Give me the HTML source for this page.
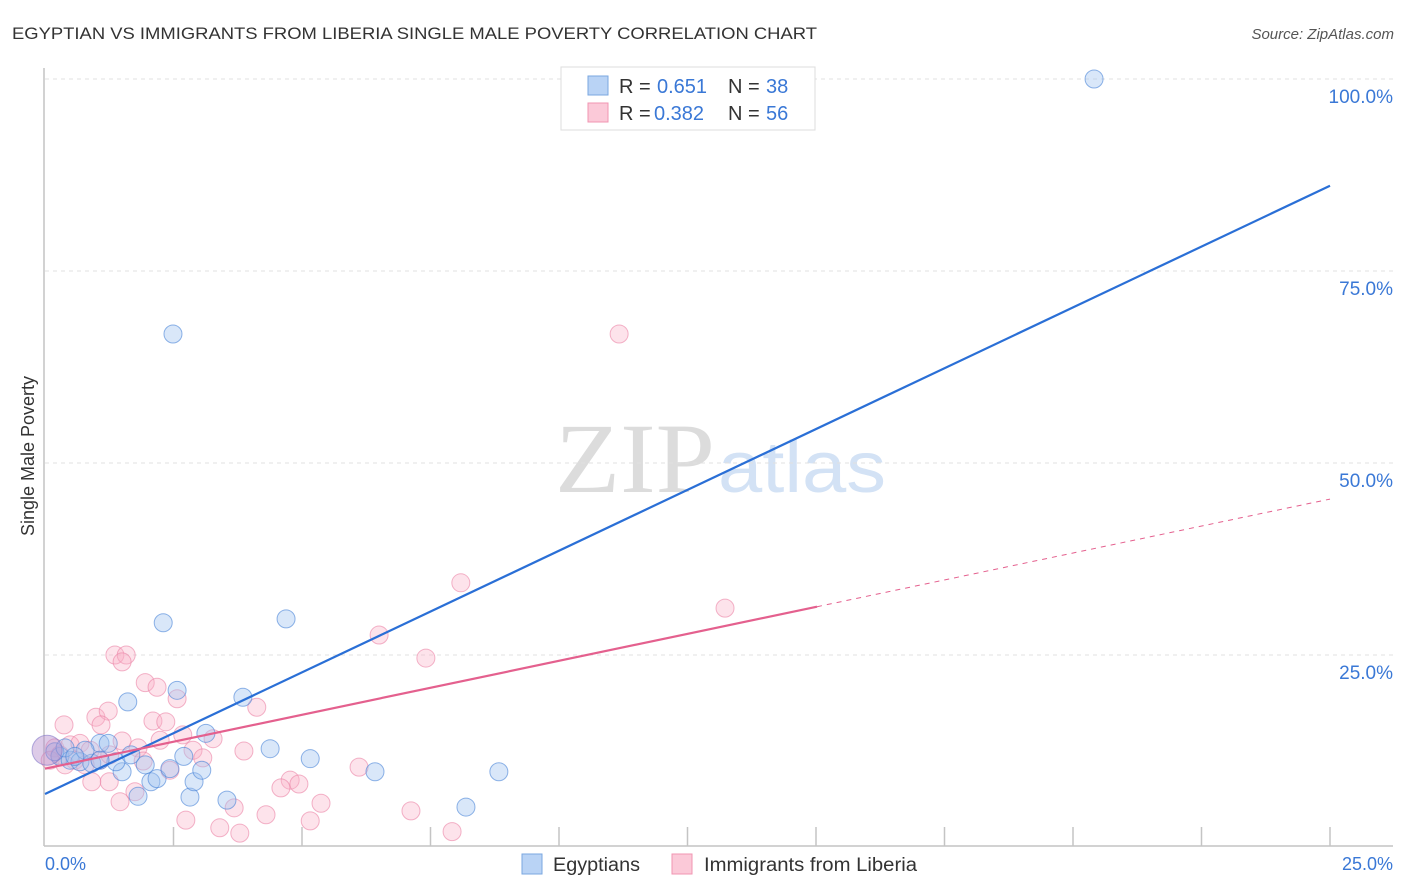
<!DOCTYPE html>
<html><head><meta charset="utf-8"><style>
body{margin:0;background:#fff;font-family:"Liberation Sans",sans-serif}
svg{display:block}
</style></head><body>
<svg id="chart" width="1406" height="892" xmlns="http://www.w3.org/2000/svg" font-family="Liberation Sans, sans-serif">
<text x="12" y="39" font-size="17" fill="#333" textLength="805" lengthAdjust="spacingAndGlyphs">EGYPTIAN VS IMMIGRANTS FROM LIBERIA SINGLE MALE POVERTY CORRELATION CHART</text>
<text x="1394" y="39" font-size="15" fill="#555" font-style="italic" text-anchor="end">Source: ZipAtlas.com</text>
<text x="0" y="0" transform="translate(34,456) rotate(-90)" font-size="18" fill="#333" text-anchor="middle">Single Male Poverty</text>
<text x="555" y="492" font-size="100" fill="#dcdcdc" textLength="160" lengthAdjust="spacingAndGlyphs" font-family="Liberation Serif, serif">ZIP</text>
<text x="718" y="492" font-size="72" fill="#d3e2f5" textLength="168" lengthAdjust="spacingAndGlyphs">atlas</text>
<g id="grid"></g>
<line x1="44" y1="68" x2="44" y2="846" stroke="#c4c4c4" stroke-width="1.5"/>
<line x1="44" y1="846" x2="1393" y2="846" stroke="#c4c4c4" stroke-width="1.5"/>
<g id="ticks"></g>
<g id="pts"></g>
<g id="lines"></g>
<text x="45" y="870" font-size="18" fill="#3a78d6">0.0%</text>
<text x="1393" y="870" font-size="18" fill="#3a78d6" text-anchor="end">25.0%</text>
<g>
<rect x="561" y="67" width="254" height="63" fill="#fff" stroke="#ddd"/>
<rect x="588" y="76" width="20" height="19" fill="#b9d3f5" stroke="#7aa7e0"/>
<rect x="588" y="103" width="20" height="19" fill="#fbc9d8" stroke="#f095b2"/>
<text x="619" y="93" font-size="20" fill="#333">R = </text><text x="657" y="93" font-size="20" fill="#3a78d6">0.651</text>
<text x="728" y="93" font-size="20" fill="#333">N = </text><text x="766" y="93" font-size="20" fill="#3a78d6">38</text>
<text x="619" y="120" font-size="20" fill="#333">R = </text><text x="654" y="120" font-size="20" fill="#3a78d6">0.382</text>
<text x="728" y="120" font-size="20" fill="#333">N = </text><text x="766" y="120" font-size="20" fill="#3a78d6">56</text>
</g>
<g>
<rect x="522" y="854" width="20" height="20" fill="#b9d3f5" stroke="#7aa7e0"/>
<text x="553" y="871" font-size="19" fill="#333" textLength="87" lengthAdjust="spacingAndGlyphs">Egyptians</text>
<rect x="672" y="854" width="20" height="20" fill="#fbc9d8" stroke="#f095b2"/>
<text x="704" y="871" font-size="19" fill="#333" textLength="213" lengthAdjust="spacingAndGlyphs">Immigrants from Liberia</text>
</g>
</svg>
<script>
const yTicks=[100,75,50,25];
const xTickVals=[2.5,5,7.5,10,12.5,15,17.5,20,22.5,25];
const blueX=[2.49,2.30,4.69,2.57,1.61,3.85,3.13,1.07,1.23,4.38,5.16,6.42,8.83,8.19,3.54,2.82,1.81,2.06,2.18,2.90,3.05,2.43,2.70,1.50,1.38,1.67,20.41,0.29,0.49,0.68,0.91,0.19,0.39,0.78,0.58,1.95,1.07];
const blueY=[66.8,29.2,29.7,20.4,18.9,19.5,14.8,13.5,13.5,12.8,11.5,9.8,9.8,5.2,6.1,6.5,6.6,8.5,8.9,8.5,10.0,10.2,11.8,9.8,11.1,12.0,100,11.8,11.3,11.1,10.9,12.4,12.9,12.6,11.8,10.7,11.3];
const pinkX=[11.17,8.09,13.23,6.50,7.41,1.36,1.58,1.50,1.95,2.18,2.57,4.12,0.99,1.23,0.37,1.09,2.10,2.35,1.50,3.27,2.68,2.24,1.81,3.87,2.88,3.07,2.43,6.11,4.77,4.59,4.94,3.68,5.37,2.74,3.40,3.79,5.16,4.30,7.12,7.92,1.46,1.25,0.91,1.75,0.19,0.49,0.68,0.88,0.29,0.58,1.07,1.91,0.78,0.10,0.39,1.26];
const pinkY=[66.8,34.4,31.1,27.6,24.6,25.0,25.0,24.1,21.4,20.8,19.3,18.2,16.9,17.7,15.9,15.9,16.4,16.3,13.8,14.1,14.6,13.9,12.9,12.5,12.6,11.6,10.0,10.4,8.7,7.7,8.2,5.1,5.7,3.5,2.5,1.8,3.4,4.2,4.7,2.0,5.9,8.5,8.5,7.2,12.9,13.3,13.5,12.6,12.0,11.3,11.3,11.2,10.7,11.3,10.7,12.0];
const bigX=[0.04], bigY=[12.6];
const blueFit=[6.9,86.1];
const pinkFit=[10.2,45.3]; const pinkSolidEnd=15.02;
const X=v=>45+v*51.4, Y=v=>847-v*7.68;
const NS='http://www.w3.org/2000/svg';
function mk(t,a,p){const e=document.createElementNS(NS,t);for(const k in a)e.setAttribute(k,a[k]);p.appendChild(e);return e;}
const grid=document.getElementById('grid');
yTicks.forEach(v=>{
 const l=mk('line',{x1:45,x2:1393,y1:Y(v),y2:Y(v),stroke:'#e0e0e0','stroke-dasharray':'4,4'},grid);
 
 
 const t=mk('text',{x:1393,y:Y(v)+24,'font-size':19,fill:'#3a78d6','text-anchor':'end'},grid);
 t.textContent=v.toFixed(1)+'%';
 
 
});
const tk=document.getElementById('ticks');
xTickVals.forEach(v=>{
 const l=mk('line',{x1:X(v),x2:X(v),y1:827,y2:846,stroke:'#c4c4c4','stroke-width':1.5},tk);
 
 
});
const pts=document.getElementById('pts');
function dot(x,y,r,fill,stroke,name){
 const c=mk('circle',{cx:X(x),cy:Y(y),r:r,fill:fill,stroke:stroke,'stroke-width':1},pts);
 
 
}
pinkX.forEach((x,i)=>dot(x,pinkY[i],9,'rgba(248,175,198,0.35)','rgba(235,130,165,0.6)','liberia-point'));
blueX.forEach((x,i)=>dot(x,blueY[i],9,'rgba(160,195,240,0.4)','rgba(70,130,215,0.6)','egyptian-point'));
bigX.forEach((x,i)=>dot(x,bigY[i],15,'rgba(180,140,205,0.45)','rgba(130,120,200,0.6)','cluster-point'));
const ln=document.getElementById('lines');
const pf=x=>pinkFit[0]+(pinkFit[1]-pinkFit[0])*x/25;
let l=mk('line',{x1:X(0),y1:Y(blueFit[0]),x2:X(25),y2:Y(blueFit[1]),stroke:'#2a6fd6','stroke-width':2.2},ln);


l=mk('line',{x1:X(0),y1:Y(pf(0)),x2:X(pinkSolidEnd),y2:Y(pf(pinkSolidEnd)),stroke:'#e4608e','stroke-width':2.2},ln);


l=mk('line',{x1:X(pinkSolidEnd),y1:Y(pf(pinkSolidEnd)),x2:X(25),y2:Y(pf(25)),stroke:'#e4608e','stroke-width':1,'stroke-dasharray':'5,5'},ln);


</script>
</body></html>
